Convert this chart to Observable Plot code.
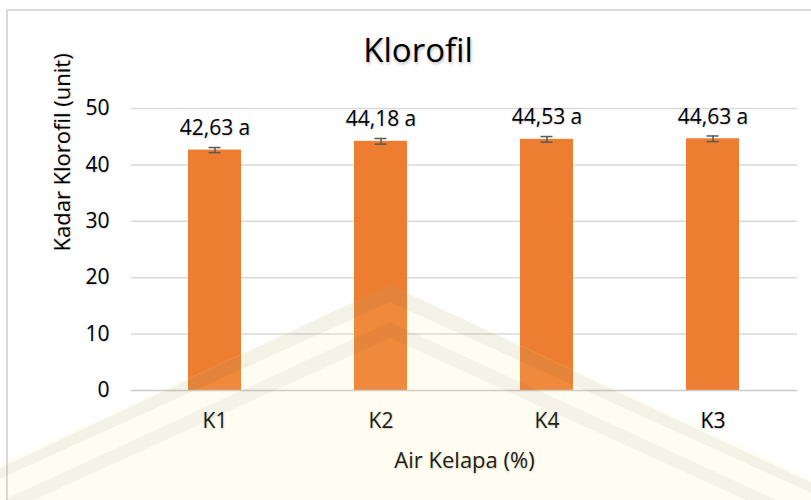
<!DOCTYPE html>
<html>
<head>
<meta charset="utf-8">
<script src="https://cdn.jsdelivr.net/npm/d3@7"></script>
<script src="https://cdn.jsdelivr.net/npm/@observablehq/plot@0.6"></script>
<style>
  html, body { margin: 0; padding: 0; background: #fff; }
  body { width: 811px; height: 500px; overflow: hidden; position: relative; font-family: "Open Sans", sans-serif; }
  #frame { position: absolute; left: 6px; top: 9px; width: 840px; height: 520px; border: 2px solid #d9d9d9; box-sizing: border-box; }
  #title { position: absolute; left: 0; width: 836px; top: 28px; text-align: center; font-size: 33px; color: #000; line-height: 44px;
           text-shadow: 1px 2px 3px rgba(0,0,0,0.25); }
  #chart { position: absolute; left: 0; top: 0; }
  #chart svg text { text-shadow: 0.5px 1px 2px rgba(0,0,0,0.2); }
  #wm { position: absolute; left: 0; top: 0; pointer-events: none; }
</style>
</head>
<body>
<div id="frame"></div>
<div id="title">Klorofil</div>
<div id="chart"></div>
<svg id="wm" width="811" height="500" viewBox="0 0 811 500">
  <polygon points="390,285 900,520 900,520 -120,520" fill="rgba(255,238,150,0.12)"/>
  <polygon points="390,285 880,515 860,515 390,302 -80,515 -100,515" fill="rgba(0,0,0,0.045)"/>
  <polygon points="390,322 820,520 790,520 390,338 -10,520 -40,520" fill="rgba(0,0,0,0.04)"/>
</svg>
<script>
const categories = ["K1", "K2", "K4", "K3"];
const values = [42.63, 44.18, 44.53, 44.63];
const errors = [0.45, 0.5, 0.5, 0.5];
const letters = ["a", "a", "a", "a"];
const yTicks = [0, 10, 20, 30, 40, 50];
const gridTicks = [10, 20, 30, 40, 50];

const data = categories.map((c, i) => ({
  cat: c,
  value: values[i],
  err: errors[i],
  label: d3.format(".2f")(values[i]).replace(".", ",") + " " + letters[i]
}));

const chart = Plot.plot({
  width: 811,
  height: 500,
  marginTop: 108,
  marginBottom: 110,
  marginLeft: 131,
  marginRight: 14,
  style: { fontFamily: "Open Sans, sans-serif", fontSize: "21px", color: "#000", background: "transparent" },
  x: { domain: categories, paddingInner: 0.68, paddingOuter: 0.34, label: null },
  y: { domain: [0, 50], label: null },
  marks: [
    Plot.gridY(gridTicks, { stroke: "#d9d9d9", strokeOpacity: 1, strokeWidth: 1.5 }),
    Plot.barY(data, { x: "cat", y: "value", fill: "#ED7D31" }),
    Plot.ruleY([0], { stroke: "#c9c9c9", strokeWidth: 1.5 }),
    Plot.ruleX(data, { x: "cat", y1: d => d.value - d.err, y2: d => d.value + d.err, stroke: "#595959", strokeWidth: 1.5 }),
    Plot.tickY(data, { x: "cat", y: d => d.value - d.err, stroke: "#595959", strokeWidth: 1.5, insetLeft: 20.5, insetRight: 20.5 }),
    Plot.tickY(data, { x: "cat", y: d => d.value + d.err, stroke: "#595959", strokeWidth: 1.5, insetLeft: 20.5, insetRight: 20.5 }),
    Plot.text(data, { x: "cat", y: "value", text: "label", dy: -22, lineAnchor: "middle", fontSize: 21, fill: "#000" }),
    Plot.axisY({ ticks: yTicks, tickSize: 0, tickPadding: 22, fontSize: 21, label: null }),
    Plot.axisX({ tickSize: 0, tickPadding: 23, fontSize: 21, label: null }),
    Plot.text(["Air Kelapa (%)"], { frameAnchor: "bottom", dy: 70, lineAnchor: "middle", fontSize: 22, fill: "#000" }),
    Plot.text(["Kadar Klorofil (unit)"], { frameAnchor: "left", dx: -69, dy: 2, rotate: -90, lineAnchor: "middle", fontSize: 22, fill: "#000" })
  ]
});
document.getElementById("chart").appendChild(chart);
</script>
</body>
</html>
